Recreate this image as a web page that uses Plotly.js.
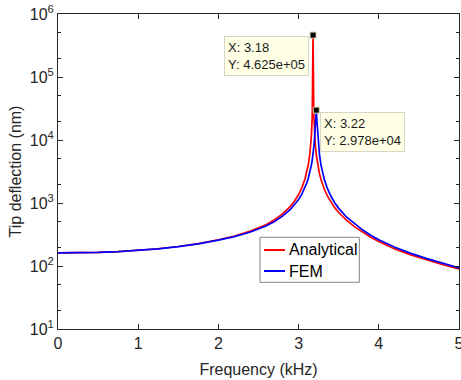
<!DOCTYPE html>
<html>
<head>
<meta charset="utf-8">
<script src="https://cdn.plot.ly/plotly-3.0.1.min.js"></script>
<style>html,body{margin:0;padding:0;background:#fff;}#chart{width:461px;height:380px;}</style>
</head>
<body>
<div id="chart"></div>
<script>
// Frequency (kHz)
var freq = [0, 0.25, 0.5, 0.75, 1, 1.25, 1.5, 1.75, 2, 2.2, 2.4, 2.6, 2.7, 2.8, 2.9, 2.95, 3.0, 3.04, 3.08, 3.1, 3.12, 3.14, 3.15, 3.16, 3.17, 3.18, 3.19, 3.20, 3.21, 3.22, 3.23, 3.24, 3.25, 3.26, 3.28, 3.3, 3.32, 3.36, 3.4, 3.45, 3.5, 3.6, 3.7, 3.8, 3.9, 4.0, 4.2, 4.4, 4.6, 4.8, 5.0];
// Tip deflection (nm), analytical
var analytical = [162, 162.2, 164.6, 169.1, 176.4, 187.7, 203.9, 226.9, 261.4, 299.2, 357.8, 457.3, 541.7, 671.1, 893.4, 1077, 1363, 1742, 2423, 3019, 4013, 6000, 7987, 11960, 23890, 462500, 23810, 11890, 7911, 5924, 4733, 3938, 3370, 2944, 2348, 1951, 1667, 1287, 1045, 844, 706, 528, 418, 341, 285.7, 243.9, 186.7, 150.4, 124.5, 104.8, 89.7];
// Tip deflection (nm), FEM
var fem = [162, 162.2, 164.5, 168.9, 176.0, 186.9, 202.4, 224.5, 257.2, 292.6, 346.5, 435.6, 509.3, 618.4, 796.3, 934.8, 1137, 1380, 1763, 2051, 2446, 3043, 3468, 4030, 4812, 5964, 7833, 11300, 19160, 29780, 19100, 11240, 7764, 5892, 3958, 2969, 2378, 1686, 1302, 1010, 822, 595, 462, 371.8, 308.4, 261.4, 198.2, 158.6, 130.7, 109.6, 93.5];
// Data tips
var tipX = [3.18, 3.22];
var tipY = [462500, 29780];
var tipText = ["X: 3.18<br>Y: 4.625e+05", "X: 3.22<br>Y: 2.978e+04"];
var yTickVals = [10, 100, 1000, 10000, 100000, 1000000];
var yTickText = ["10<sup>1</sup>", "10<sup>2</sup>", "10<sup>3</sup>", "10<sup>4</sup>", "10<sup>5</sup>", "10<sup>6</sup>"];
var seriesNames = ["Analytical", "FEM"];
var seriesColors = ['rgb(255,0,0)', 'rgb(0,0,255)'];

var axisColor = '#262626';
var fontFam = '"Liberation Sans", Arial, sans-serif';

var traces = [
  {x: freq, y: analytical, name: seriesNames[0], type: 'scatter', mode: 'lines',
   line: {color: seriesColors[0], width: 1.7}, showlegend: false},
  {x: freq, y: fem, name: seriesNames[1], type: 'scatter', mode: 'lines',
   line: {color: seriesColors[1], width: 1.7}, showlegend: false},
  {x: tipX, y: tipY, type: 'scatter', mode: 'markers', showlegend: false, hoverinfo: 'skip',
   marker: {symbol: 'square', size: 6, color: '#000', line: {color: 'rgb(210,210,170)', width: 1}}}
];

var annotations = [
  {x: tipX[0], y: Math.log10(tipY[0]), xref: 'x', yref: 'y', text: tipText[0], showarrow: false,
   xanchor: 'right', yanchor: 'top', xshift: -4, yshift: -1, align: 'left',
   bgcolor: 'rgb(255,255,230)', bordercolor: 'rgb(215,215,200)', borderwidth: 1, borderpad: 3,
   font: {family: fontFam, size: 13, color: '#1a1a1a'}},
  {x: tipX[1], y: Math.log10(tipY[1]), xref: 'x', yref: 'y', text: tipText[1], showarrow: false,
   xanchor: 'left', yanchor: 'top', xshift: 4, yshift: -2, align: 'left',
   bgcolor: 'rgb(255,255,230)', bordercolor: 'rgb(215,215,200)', borderwidth: 1, borderpad: 3,
   font: {family: fontFam, size: 13, color: '#1a1a1a'}}
];

// Legend (drawn manually to match the compact MATLAB style)
var legBox = {x0: 0.5037, x1: 0.7514, y0: 0.1483, y1: 0.2911};
var legRows = [0.2508, 0.1841];
var shapes = [
  {type: 'rect', xref: 'paper', yref: 'paper', x0: legBox.x0, x1: legBox.x1, y0: legBox.y0, y1: legBox.y1,
   line: {color: 'rgb(130,130,130)', width: 1}, fillcolor: '#fff', layer: 'above'}
];
seriesNames.forEach(function (n, i) {
  shapes.push({type: 'line', xref: 'paper', yref: 'paper', x0: 0.5137, x1: 0.5661, y0: legRows[i], y1: legRows[i],
    line: {color: seriesColors[i], width: 2}, layer: 'above'});
  annotations.push({xref: 'paper', yref: 'paper', x: 0.5711, y: legRows[i], text: n, showarrow: false,
    xanchor: 'left', yanchor: 'middle', font: {family: fontFam, size: 16, color: '#000'}});
});

var layout = {
  width: 461, height: 380,
  margin: {l: 58, r: 2, t: 14, b: 51, pad: 0},
  paper_bgcolor: '#fff', plot_bgcolor: '#fff',
  font: {family: fontFam, size: 16, color: axisColor},
  showlegend: false,
  xaxis: {range: [0, 5], dtick: 1, tick0: 0, showgrid: false, zeroline: false,
    showline: true, mirror: 'ticks', linecolor: axisColor, linewidth: 1,
    ticks: 'inside', ticklen: 5, tickcolor: axisColor, ticklabeloverflow: 'allow',
    tickfont: {family: fontFam, size: 16, color: axisColor},
    title: {text: 'Frequency (kHz)', font: {family: fontFam, size: 16, color: axisColor}, standoff: 12}},
  yaxis: {type: 'log', range: [1, 6], showgrid: false, zeroline: false,
    tickvals: yTickVals, ticktext: yTickText,
    showline: true, mirror: 'ticks', linecolor: axisColor, linewidth: 1,
    ticks: 'inside', ticklen: 5, tickcolor: axisColor,
    minor: {ticks: 'inside', ticklen: 3, tickcolor: axisColor, showgrid: false},
    tickfont: {family: fontFam, size: 16, color: axisColor},
    title: {text: 'Tip deflection (nm)', font: {family: fontFam, size: 16, color: axisColor}, standoff: 4}},
  shapes: shapes,
  annotations: annotations
};

Plotly.newPlot('chart', traces, layout, {displayModeBar: false, staticPlot: true});
</script>
</body>
</html>
